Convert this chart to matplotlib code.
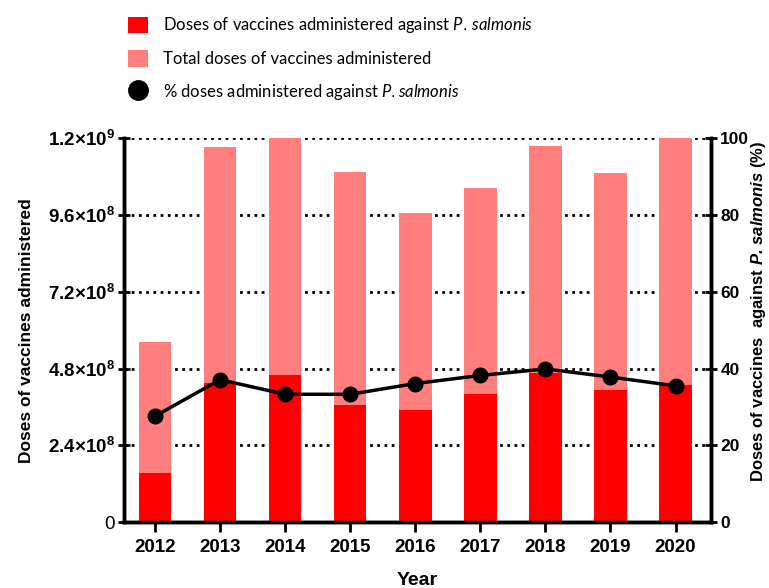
import matplotlib
matplotlib.use("Agg")
import matplotlib.pyplot as plt
from matplotlib.patches import Patch
from matplotlib.lines import Line2D


years = ["2012", "2013", "2014", "2015", "2016", "2017", "2018", "2019", "2020"]
total_doses = [5.62e8, 1.172e9, 1.2e9, 1.093e9, 9.67e8, 1.044e9, 1.175e9, 1.091e9, 1.2e9]
salmonis_doses = [1.55e8, 4.35e8, 4.6e8, 3.67e8, 3.52e8, 4.0e8, 4.65e8, 4.14e8, 4.3e8]
salmonis_pct = [27.6, 37.1, 33.3, 33.3, 36.1, 38.2, 39.9, 37.8, 35.5]

left_ticks = [0, 2.4e8, 4.8e8, 7.2e8, 9.6e8, 1.2e9]
left_tick_labels = [
    "0",
    r"$\mathbf{2.4{\times}10^{8}}$",
    r"$\mathbf{4.8{\times}10^{8}}$",
    r"$\mathbf{7.2{\times}10^{8}}$",
    r"$\mathbf{9.6{\times}10^{8}}$",
    r"$\mathbf{1.2{\times}10^{9}}$",
]
right_ticks = [0, 20, 40, 60, 80, 100]

RED = "#FF0000"
PINK = "#FF7F7F"

plt.rcParams["font.family"] = "Liberation Sans"
plt.rcParams["mathtext.fontset"] = "custom"
plt.rcParams["mathtext.rm"] = "Liberation Sans"
plt.rcParams["mathtext.bf"] = "Liberation Sans:bold"
plt.rcParams["mathtext.bfit"] = "Liberation Sans:italic:bold"
plt.rcParams["mathtext.it"] = "Lato:italic"

fig = plt.figure(figsize=(7.69, 5.88), dpi=100)
ax = fig.add_axes([0.161, 0.112, 0.764, 0.653])
ax2 = ax.twinx()

x = list(range(len(years)))
ax.bar(x, total_doses, width=0.5, color=PINK, zorder=2)
ax.bar(x, salmonis_doses, width=0.5, color=RED, zorder=3)

ax.set_xlim(-0.48, 8.55)
ax.set_ylim(0, 1.2e9)
ax.set_yticks(left_ticks)
ax.set_yticklabels(left_tick_labels)
ax.set_xticks(x)
ax.set_xticklabels(years)
ax.set_axisbelow(True)
ax.yaxis.grid(True, color="black", linestyle=(0, (1, 1.6)), linewidth=2)

for a in (ax, ax2):
    a.spines["top"].set_visible(False)
    for side in ("left", "right", "bottom"):
        a.spines[side].set_linewidth(2.5)
ax.tick_params(axis="x", width=2, length=7, labelsize=13.5, pad=5)
ax.tick_params(axis="y", direction="inout", width=2, length=9, labelsize=13.5, pad=2)
for lbl in ax.get_xticklabels():
    lbl.set_fontweight("bold")

ax2.plot(x, salmonis_pct, color="black", linewidth=2.5, marker="o", markersize=10.5, zorder=5)
ax2.set_ylim(0, 100)
ax2.set_yticks(right_ticks)
ax2.tick_params(axis="y", width=2, length=9, direction="inout", labelsize=12.5, pad=2)
for lbl in ax2.get_yticklabels():
    lbl.set_fontweight("bold")

ax.set_xlabel("Year", fontsize=14, fontweight="bold", labelpad=12)
ax.set_ylabel("Doses of vaccines administered", fontsize=12.5, fontweight="bold", labelpad=10)
ax2.set_ylabel(r"Doses of vaccines  against $\mathbfit{P.\,salmonis}$ (%)",
               fontsize=12, fontweight="bold")
ax2.yaxis.set_label_coords(1.064, 0.55)

handles = [
    Patch(facecolor=RED),
    Patch(facecolor=PINK),
    Line2D([], [], marker="o", color="black", linestyle="none", markersize=14),
]
labels = [
    r"Doses of vaccines administered against $\mathit{P.\,salmonis}$",
    "Total doses of vaccines administered",
    r"% doses administered against $\mathit{P.salmonis}$",
]
fig.legend(handles, labels, loc="upper left", bbox_to_anchor=(0.158, 0.985),
           frameon=False, prop={"family": "Lato", "size": 12},
           handlelength=1.2, handleheight=1.15, handletextpad=0.9,
           labelspacing=0.9, borderaxespad=0)

fig.savefig("out.png", dpi=100)
